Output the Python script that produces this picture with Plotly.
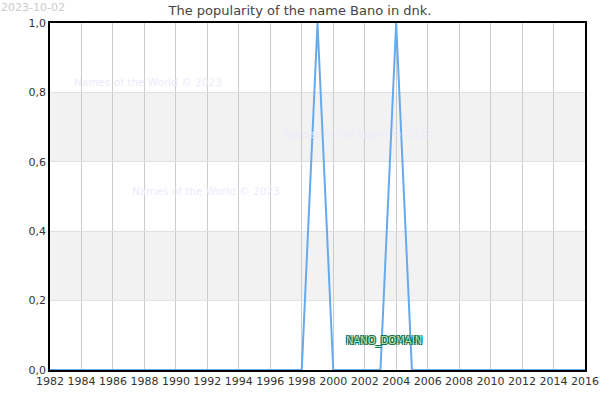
import plotly.graph_objects as go

years = list(range(1982, 2017))
popularity = [0] * 17 + [1, 0, 0, 0, 0, 1] + [0] * 12  # 1982..2016
x_ticks = list(range(1982, 2017, 2))
y_ticks = [0, 0.2, 0.4, 0.6, 0.8, 1.0]
bands = [(0.2, 0.4), (0.6, 0.8)]
watermark_spots = [(1988.2, 0.83), (2001.6, 0.68), (1991.9, 0.515)]

fig = go.Figure()

for lo, hi in bands:
    fig.add_shape(type="rect", xref="x domain", yref="y", x0=0, x1=1, y0=lo, y1=hi,
                  fillcolor="#f2f2f2", line_width=0, layer="below")

fig.add_trace(go.Scatter(x=years, y=popularity, mode="lines",
                         line=dict(color="#66aaee", width=2), showlegend=False,
                         hoverinfo="skip"))

for wx, wy in watermark_spots:
    fig.add_annotation(x=wx, y=wy, text="Names of the World © 2023", showarrow=False,
                       font=dict(family="DejaVu Sans", size=10.5, color="#ececfb"))

fig.add_annotation(x=2003.2, y=0.084, text="NANO_DOMAIN", showarrow=False,
                   font=dict(family="DejaVu Sans", size=10, color="#a8e6c8",
                             shadow="1px 1px 0 #0b6b45, -1px -1px 0 #0b6b45, 1px -1px 0 #0b6b45, -1px 1px 0 #0b6b45"))

fig.add_annotation(xref="paper", yref="paper", x=-0.093, y=1.066, xanchor="left", yanchor="top",
                   text="2023-10-02", showarrow=False, borderpad=0,
                   font=dict(family="DejaVu Sans", size=11, color="#cccccc"))

fig.update_layout(
    width=600, height=400,
    margin=dict(l=50, r=15, t=23, b=30),
    paper_bgcolor="white", plot_bgcolor="white",
    separators=",.",
    title=dict(text="The popularity of the name Bano in dnk.", x=0.5, xanchor="center",
               y=0.975, yanchor="middle",
               font=dict(family="DejaVu Sans", size=13, color="#444444")),
    font=dict(family="DejaVu Sans", size=11, color="#333333"),
)
fig.update_xaxes(range=[1982, 2016], tickvals=x_ticks, showgrid=True, gridcolor="#cccccc",
                 gridwidth=1, showline=True, linecolor="black", linewidth=1.5, mirror=True,
                 ticks="", zeroline=False, automargin=False)
fig.update_yaxes(range=[0, 1], tickvals=y_ticks, tickformat=".1f", showgrid=True,
                 gridcolor="#e0e0e0", gridwidth=1, showline=True, linecolor="black",
                 linewidth=1.5, mirror=True, ticks="", zeroline=False, automargin=False)

# drop the default body margin and scrollbars so the figure fills the window
fig.write_html("out.html", config={"displayModeBar": False},
               post_script="document.body.style.margin='0';"
                           "document.documentElement.style.overflow='hidden';"
                           "document.body.style.overflow='hidden';")
